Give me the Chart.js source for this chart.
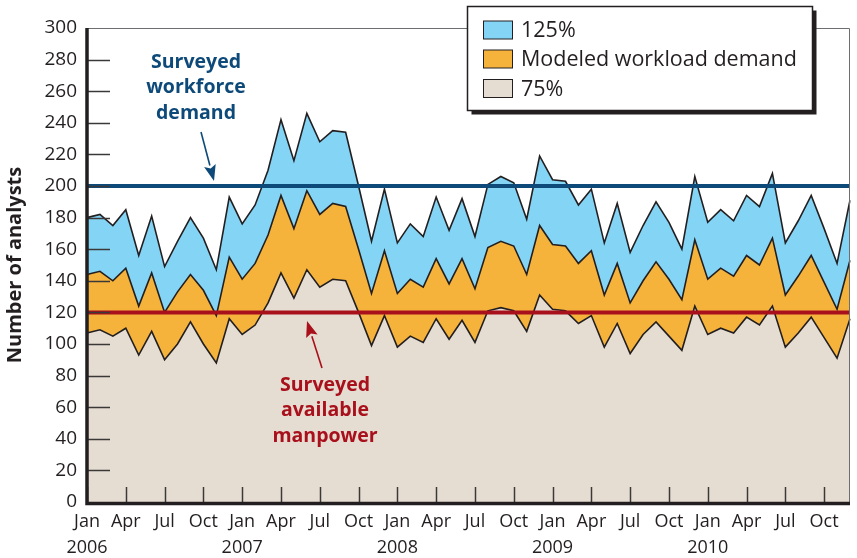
<!DOCTYPE html>
<html>
<head>
<meta charset="utf-8">
<script src="https://cdn.jsdelivr.net/npm/chart.js@4"></script>
<style>
  html, body { margin: 0; padding: 0; background: #fff; }
  canvas { display: block; }
</style>
</head>
<body>
<canvas id="analysts_chart" width="857" height="558"></canvas>
<script>
// months Jan 2006 .. Dec 2010
const monthNames = ['Jan', 'Feb', 'Mar', 'Apr', 'May', 'Jun', 'Jul', 'Aug', 'Sep', 'Oct', 'Nov', 'Dec'];
const years = [2006, 2007, 2008, 2009, 2010];
const shownMonths = ['Jan', 'Apr', 'Jul', 'Oct'];

// values
const high125 = [180, 182, 175, 185, 156, 181, 149, 165, 180, 167, 147, 193,
                 176, 188, 210, 242, 216, 246, 228, 235, 234, 200, 165, 198,
                 164, 176, 168, 193, 172, 192, 168, 201, 206, 202, 179, 219,
                 204, 203, 188, 198, 164, 189, 158, 175, 190, 177, 160, 206,
                 177, 185, 178, 194, 187, 208, 164, 178, 194, 173, 151, 191];
const modeled = [144, 146, 140, 148, 124, 145, 120, 133, 144, 134, 118, 155,
                 141, 151, 169, 194, 173, 197, 182, 189, 187, 160, 132, 159,
                 132, 141, 136, 154, 138, 154, 135, 161, 165, 162, 144, 175,
                 163, 162, 151, 159, 131, 151, 126, 140, 152, 141, 128, 166,
                 141, 148, 143, 156, 150, 167, 131, 143, 156, 139, 122, 153];
const low75 = [107, 109, 105, 110, 93, 108, 90, 100, 114, 100, 88, 116,
               106, 112, 126, 145, 129, 147, 136, 141, 140, 120, 99, 118,
               98, 105, 101, 116, 103, 115, 101, 121, 123, 121, 108, 131,
               122, 121, 113, 118, 98, 113, 94, 106, 114, 105, 96, 124,
               106, 110, 107, 117, 112, 124, 98, 107, 117, 104, 91, 116];

const workforceDemand = 200;
const availableManpower = 120;

const ink = '#231f20';
const navy = '#0e4a79';
const crimson = '#a8101c';

const categories = [];
years.forEach((y) => monthNames.forEach((m) => categories.push(m + ' ' + y)));

const overlay = {
    id: 'overlay',
    afterDraw(chart) {
        const ctx = chart.ctx;
        const area = chart.chartArea;
        const xs = chart.scales.x;
        const ys = chart.scales.y;
        ctx.save();

        // reference lines
        ctx.lineWidth = 4;
        ctx.strokeStyle = navy;
        let py = ys.getPixelForValue(workforceDemand);
        ctx.beginPath(); ctx.moveTo(area.left, py); ctx.lineTo(area.right, py); ctx.stroke();
        ctx.strokeStyle = crimson;
        py = ys.getPixelForValue(availableManpower);
        ctx.beginPath(); ctx.moveTo(area.left, py); ctx.lineTo(area.right, py); ctx.stroke();

        // inside ticks
        ctx.strokeStyle = '#3b3838';
        ctx.lineWidth = 1.5;
        for (let v = 20; v < 300; v += 20) {
            const y = Math.round(ys.getPixelForValue(v)) + 0.5;
            ctx.beginPath(); ctx.moveTo(area.left, y); ctx.lineTo(area.left + 23, y); ctx.stroke();
        }
        categories.forEach((c, i) => {
            if (i % 3 !== 0) return;
            const x = Math.round(xs.getPixelForValue(i)) + 0.5;
            ctx.beginPath(); ctx.moveTo(x, area.bottom); ctx.lineTo(x, area.bottom - 15); ctx.stroke();
        });

        // frame
        ctx.strokeStyle = '#6d6e71';
        ctx.lineWidth = 1;
        ctx.beginPath();
        ctx.moveTo(area.left, area.top + 0.5); ctx.lineTo(area.right - 0.5, area.top + 0.5);
        ctx.lineTo(area.right - 0.5, area.bottom);
        ctx.stroke();
        ctx.strokeStyle = ink;
        ctx.lineWidth = 3.5;
        ctx.beginPath();
        ctx.moveTo(area.left, area.top); ctx.lineTo(area.left, area.bottom + 1.5);
        ctx.lineTo(area.right, area.bottom + 1.5);
        ctx.stroke();

        // annotations
        ctx.font = 'bold 19.5px "Open Sans"';
        ctx.textAlign = 'center';
        ctx.textBaseline = 'middle';
        ctx.fillStyle = navy;
        ['Surveyed', 'workforce', 'demand'].forEach((t, i) => ctx.fillText(t, 196, 62 + i * 25.5));
        ctx.fillStyle = crimson;
        ['Surveyed', 'available', 'manpower'].forEach((t, i) => ctx.fillText(t, 325, 385 + i * 25.5));
        drawArrow(ctx, 201, 132, 214, 181, navy);
        drawArrow(ctx, 322, 368, 307, 321, crimson);

        // legend box
        const bx = 467.5, by = 6.5, bw = 345, bh = 104;
        ctx.fillStyle = ink;
        ctx.fillRect(bx + 4, by + 4, bw, bh);
        ctx.fillStyle = '#fff';
        ctx.fillRect(bx, by, bw, bh);
        ctx.strokeStyle = ink;
        ctx.lineWidth = 1.5;
        ctx.strokeRect(bx, by, bw, bh);
        ctx.font = '21.5px "Open Sans"';
        ctx.textAlign = 'left';
        const items = chart.data.datasets.slice().reverse();
        const rowY = [30, 59, 88.5];
        items.forEach((ds, i) => {
            ctx.fillStyle = ds.backgroundColor;
            ctx.fillRect(483.5, rowY[i] - 9, 29, 18);
            ctx.lineWidth = 1;
            ctx.strokeRect(483.5, rowY[i] - 9, 29, 18);
            ctx.fillStyle = ink;
            ctx.fillText(ds.label, 521, rowY[i] + 1);
        });
        ctx.restore();
    }
};

function drawArrow(ctx, x0, y0, x1, y1, color) {
    const ang = Math.atan2(y1 - y0, x1 - x0);
    const len = 16, half = 6;
    const bx = x1 - len * Math.cos(ang), by = y1 - len * Math.sin(ang);
    ctx.strokeStyle = color;
    ctx.fillStyle = color;
    ctx.lineWidth = 1.6;
    ctx.beginPath(); ctx.moveTo(x0, y0); ctx.lineTo(bx, by); ctx.stroke();
    ctx.beginPath();
    ctx.moveTo(x1, y1);
    ctx.lineTo(bx + half * Math.sin(ang), by - half * Math.cos(ang));
    ctx.lineTo(bx + 3 * Math.cos(ang), by + 3 * Math.sin(ang));
    ctx.lineTo(bx - half * Math.sin(ang), by + half * Math.cos(ang));
    ctx.closePath();
    ctx.fill();
}

const chartCtx = document.getElementById('analysts_chart').getContext('2d');

const analystsChart = new Chart(chartCtx, {
    type: 'line',
    data: {
        labels: categories,
        datasets: [
            { label: '75%', data: low75, backgroundColor: '#e6ddd2', fill: 'origin' },
            { label: 'Modeled workload demand', data: modeled, backgroundColor: '#f6b33c', fill: '-1' },
            { label: '125%', data: high125, backgroundColor: '#84d4f6', fill: '-1' }
        ]
    },
    options: {
        responsive: false,
        animation: false,
        devicePixelRatio: 1,
        layout: { padding: { top: 28, right: 0, left: 0, bottom: 0 } },
        elements: {
            point: { radius: 0 },
            line: { tension: 0, borderWidth: 1.6, borderColor: ink }
        },
        plugins: { legend: { display: false }, tooltip: { enabled: false } },
        scales: {
            x: {
                offset: false,
                grid: { display: false, drawTicks: false },
                border: { display: false },
                ticks: {
                    autoSkip: false, maxRotation: 0, minRotation: 0, padding: 7,
                    color: ink,
                    font: { family: 'Open Sans', size: 18, lineHeight: 1.45 },
                    callback(value, index) {
                        const [m, y] = categories[index].split(' ');
                        if (m === 'Jan') return [m, y];
                        return shownMonths.includes(m) ? m : '';
                    }
                },
                afterFit(scale) { scale.height = 56; }
            },
            y: {
                min: 0, max: 300,
                grid: { display: false, drawTicks: false },
                border: { display: false },
                ticks: { stepSize: 20, padding: 10, color: ink, font: { family: 'Open Sans', size: 19 } },
                title: {
                    display: true, text: 'Number of analysts', color: ink,
                    font: { family: 'Open Sans', size: 20, weight: 'bold' },
                    padding: { top: 3, bottom: 0 }
                },
                afterFit(scale) { scale.width = 87; }
            }
        }
    },
    plugins: [overlay]
});
</script>
</body>
</html>
